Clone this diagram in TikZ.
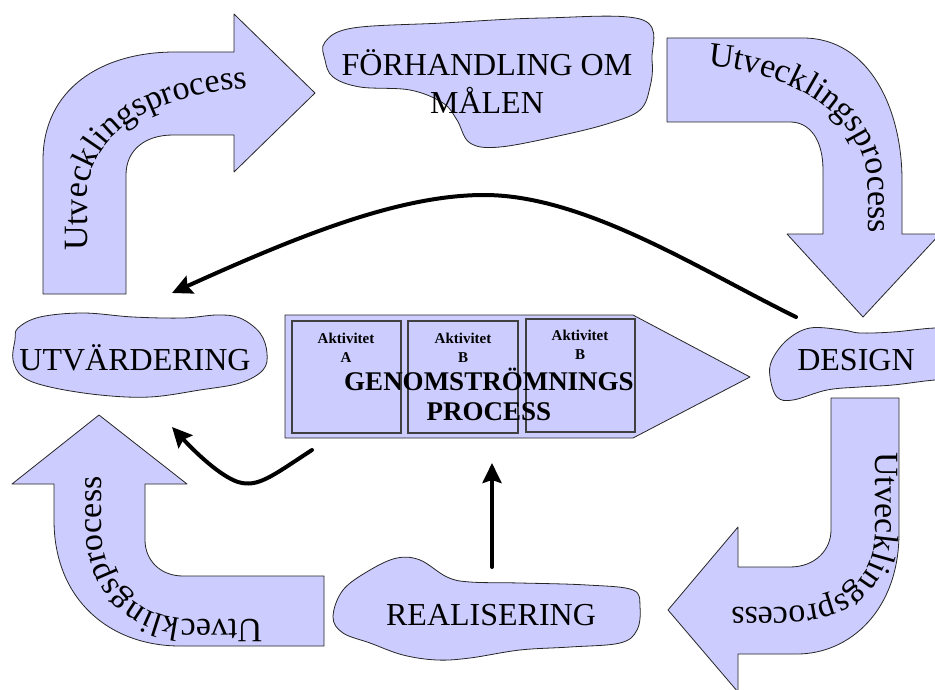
\documentclass[tikz,border=0pt]{standalone}
\usepackage{fontspec}
\setmainfont{Liberation Serif}
\usetikzlibrary{arrows.meta,decorations.text}
\definecolor{lav}{HTML}{CCCCFF}
\newcommand{\arrowfont}{\fontsize{34}{34}\selectfont}
\tikzset{
  shapefill/.style={fill=lav, draw=black!85, line width=0.8pt, line join=round},
  actbox/.style={draw=black!75, line width=1.2pt},
  bigtext/.style={font=\fontsize{32}{36}\selectfont, inner sep=0pt, anchor=base},
  acttext/.style={font=\fontsize{15}{19}\selectfont\bfseries, inner sep=0pt, anchor=base},
  flow/.style={line width=4pt, line cap=round, -{Stealth[length=20pt,width=19pt,inset=3pt]}},
  curvetext/.style={decorate, decoration={text along path, text align=left, text={|\arrowfont|Utvecklingsprocess}}}
}
\begin{document}
\begin{tikzpicture}[x=1pt,y=-1pt]
\useasboundingbox (0,0) rectangle (935,690);
\clip (0,0) rectangle (935,690);

% ---- curved block arrows ----
% top-left
\path[shapefill] (43,294) -- (43,160) .. controls (43,90) and (100,52) .. (175,52) -- (234,52) -- (234,14) -- (315,93) -- (234,172) -- (234,135) -- (173,135) .. controls (145,135) and (126,150) .. (126,175) -- (126,294) -- cycle;
% top-right
\path[shapefill] (667,38) -- (803,38) .. controls (870,38) and (902,110) .. (902,180) -- (902,234) -- (940,234) -- (863,317) -- (787,234) -- (823,234) -- (823,170) .. controls (823,140) and (810,122) .. (790,122) -- (667,122) -- cycle;
% bottom-right
\path[shapefill] (899,398) -- (899,533) .. controls (899,610) and (850,654) .. (797,654) -- (738,654) -- (738,692) -- (668,610) -- (738,527) -- (738,567) -- (790,567) .. controls (815,567) and (831,550) .. (831,530) -- (831,398) -- cycle;
% bottom-left
\path[shapefill] (324,646) -- (180,646) .. controls (110,646) and (54,600) .. (54,520) -- (54,484) -- (12,484) -- (99,415) -- (187,484) -- (145,484) -- (145,540) .. controls (145,560) and (160,576) .. (183,576) -- (324,576) -- cycle;

% text along the block arrows
\path[curvetext] (87,250) -- (87,200) .. controls (87,135) and (150,95) .. (250,88) -- (320,86);
\path[curvetext] (708,66) .. controls (790,72) and (866,115) .. (868,185) -- (868,290);
\path[curvetext] (875,452) -- (875,530) .. controls (875,585) and (835,607) .. (785,607) -- (640,607);
\path[curvetext] (262,619) -- (190,619) .. controls (135,619) and (101,580) .. (101,525) -- (101,400);

% ---- blobs ----
\path[shapefill] plot[smooth cycle, tension=0.6] coordinates {(325,42) (353,28) (443,23) (543,18) (643,20) (652,60) (650,87) (640,110) (610,123) (563,135) (500,147) (470,143) (457,120) (443,103) (410,90) (360,87) (333,77) (325,60)};
\path[shapefill] plot[smooth cycle, tension=0.6] coordinates {(18,328) (40,317) (83,313) (133,317) (183,318) (217,315) (240,318) (260,333) (267,353) (263,370) (240,383) (200,390) (150,397) (100,395) (50,387) (23,377) (13,360) (15,340)};
\path[shapefill] plot[smooth cycle, tension=0.6] coordinates {(772,360) (787,340) (810,328) (843,330) (860,333) (893,332) (935,328) (960,330) (960,380) (935,380) (893,385) (860,387) (827,390) (793,400) (777,397) (770,377)};
\path[shapefill] plot[smooth cycle, tension=0.6] coordinates {(333,617) (343,590) (370,570) (397,558) (420,560) (447,577) (470,582) (520,583) (587,585) (633,590) (640,607) (637,630) (620,643) (570,647) (520,650) (470,658) (437,660) (403,655) (370,643) (343,633)};

\node[bigtext] (goal) at (487,76) {\begin{tabular}[t]{@{}c@{}}FÖRHANDLING OM\\MÅLEN\end{tabular}};
\node[bigtext] (eval) at (135,370) {UTVÄRDERING};
\node[bigtext] (design) at (856,370) {DESIGN};
\node[bigtext] (real) at (491,625) {REALISERING};

% ---- throughput process ----
\path[shapefill] (285,315) -- (633,315) -- (750,377) -- (633,438) -- (285,438) -- cycle;
\draw[actbox] (292,321) rectangle (401,433);
\draw[actbox] (408,321) rectangle (518,433);
\draw[actbox] (526,319) rectangle (635,432);
\node[acttext] (actA) at (346,343) {\begin{tabular}[t]{@{}c@{}}Aktivitet\\A\end{tabular}};
\node[acttext] (actB1) at (463,343) {\begin{tabular}[t]{@{}c@{}}Aktivitet\\B\end{tabular}};
\node[acttext] (actB2) at (580,340) {\begin{tabular}[t]{@{}c@{}}Aktivitet\\B\end{tabular}};
\node[font=\fontsize{27}{30}\selectfont\bfseries, inner sep=0pt, anchor=base] (proc) at (489,390) {\begin{tabular}[t]{@{}c@{}}GENOMSTRÖMNINGS\\PROCESS\end{tabular}};

% ---- connectors ----
\coordinate (bigS) at (796,317);
\coordinate (bigT) at (172,293);
\coordinate (smS) at (312,450);
\coordinate (smT) at (172,427);
\coordinate (vS) at (492,567);
\coordinate (vT) at (492,463);
\draw[flow] (bigS) .. controls (700,270) and (585,195) .. (484,195) .. controls (400,195) and (300,235) .. (bigT);
\draw[flow] (smS) .. controls (272,476) and (258,488) .. (238,482) .. controls (220,476) and (195,452) .. (smT);
\draw[flow] (vS) -- (vT);
\end{tikzpicture}
\end{document}
